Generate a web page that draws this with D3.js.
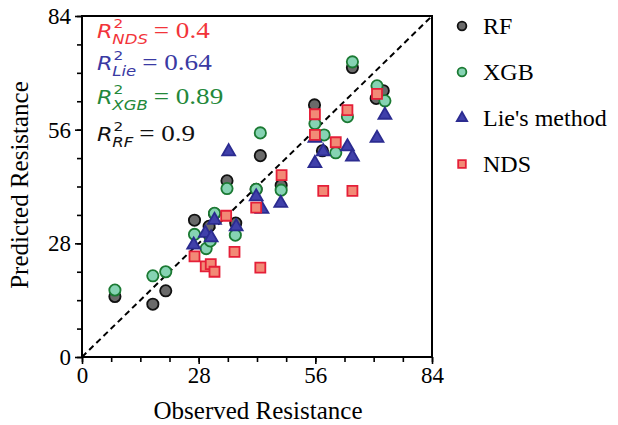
<!DOCTYPE html>
<html><head><meta charset="utf-8">
<script src="https://cdn.jsdelivr.net/npm/d3@7"></script>
<style>body{margin:0;background:#fff}svg{display:block}</style>
</head><body>
<svg id="c" width="618" height="425"></svg>
<script>
// ---- data ----
const seriesNames = ["RF", "XGB", "Lie's method", "NDS"];
const tickValues = [0, 28, 56, 84];
const minorTickValues = [0, 7, 14, 21, 28, 35, 42, 49, 56, 63, 70, 77, 84];

const rfObserved  = [7.9, 17.0, 20.1, 27.0, 30.5, 31.8, 34.8, 36.9, 41.8, 42.8, 47.8, 55.8, 57.7, 64.9, 70.6, 72.3];
const rfPredicted = [14.9, 13.0, 16.3, 33.7, 32.2, 35.3, 43.4, 33.0, 41.3, 49.6, 42.3, 62.1, 50.8, 71.3, 63.7, 65.6];

const xgbObserved  = [7.9, 17.0, 20.1, 27.0, 29.8, 30.8, 31.8, 34.8, 36.8, 41.8, 42.8, 47.8, 55.9, 58.1, 60.9, 63.7, 64.9, 70.8, 72.7];
const xgbPredicted = [16.5, 20.0, 21.0, 30.2, 26.7, 28.6, 35.4, 41.5, 30.0, 41.3, 55.2, 41.1, 57.5, 54.7, 50.3, 59.2, 72.7, 66.8, 63.1];

const lieObserved  = [26.8, 29.6, 31.0, 31.8, 35.2, 37.0, 41.8, 43.2, 47.7, 55.9, 55.9, 57.9, 63.7, 64.9, 70.8, 72.7];
const liePredicted = [27.6, 30.5, 29.4, 33.7, 50.6, 32.1, 39.5, 36.4, 37.9, 47.7, 53.9, 50.6, 51.8, 49.3, 53.9, 59.6];

const ndsObserved  = [27.0, 29.7, 30.9, 31.8, 34.6, 36.6, 41.8, 42.8, 47.9, 55.9, 55.9, 57.9, 60.9, 63.7, 64.9, 70.8];
const ndsPredicted = [24.8, 22.3, 22.9, 21.0, 34.8, 25.9, 36.8, 22.0, 44.8, 59.8, 54.7, 40.9, 52.9, 60.8, 40.9, 64.8];

const r2Labels = ["NDS", "Lie", "XGB", "RF"];
const r2Values = ["0.4", "0.64", "0.89", "0.9"];

// ---- layout ----
const svg = d3.select("#c");
const L = 82, R = 432, T = 16, B = 357;
const x = d3.scaleLinear().domain([0, 84]).range([L, R]);
const y = d3.scaleLinear().domain([0, 84]).range([B, T]);
const serif = "'Liberation Serif','Times New Roman',serif";
const sans = "'DejaVu Sans',sans-serif";

// frame
svg.append("rect").attr("x", L).attr("y", T).attr("width", R - L).attr("height", B - T)
  .attr("fill", "none").attr("stroke", "#000").attr("stroke-width", 2);

// axes
const xAxis = svg.append("g").attr("transform", `translate(0,${B})`);
xAxis.call(d3.axisBottom(x).tickValues(minorTickValues).tickSize(5).tickFormat(""));
xAxis.append("g").call(d3.axisBottom(x).tickValues(tickValues).tickSize(7).tickPadding(3).tickFormat(d3.format("d")));
const yAxis = svg.append("g").attr("transform", `translate(${L},0)`);
yAxis.call(d3.axisLeft(y).tickValues(minorTickValues).tickSize(5).tickFormat(""));
yAxis.append("g").call(d3.axisLeft(y).tickValues(tickValues).tickSize(7).tickPadding(4).tickFormat(d3.format("d")));
svg.selectAll(".domain").remove();
svg.selectAll(".tick line").attr("stroke", "#000").attr("stroke-width", 1.6);
svg.selectAll(".tick text").attr("font-family", serif).attr("font-size", 23).attr("fill", "#000");

// axis titles
svg.append("text").attr("x", 258).attr("y", 419).attr("text-anchor", "middle")
  .attr("font-family", serif).attr("font-size", 25).text("Observed Resistance");
svg.append("text").attr("transform", "translate(28,185) rotate(-90)").attr("text-anchor", "middle")
  .attr("font-family", serif).attr("font-size", 25).text("Predicted Resistance");

// diagonal
svg.append("line").attr("x1", x(0)).attr("y1", y(0)).attr("x2", x(84)).attr("y2", y(84))
  .attr("stroke", "#000").attr("stroke-width", 2).attr("stroke-dasharray", "6,4");

// series styles
const styles = [
  {name: seriesNames[0], xs: rfObserved, ys: rfPredicted, sym: d3.symbolCircle, fill: "#6a6a6a", stroke: "#111", size: 100, lsize: 60},
  {name: seriesNames[1], xs: xgbObserved, ys: xgbPredicted, sym: d3.symbolCircle, fill: "#86d3b3", stroke: "#1b7a33", size: 100, lsize: 60},
  {name: seriesNames[2], xs: lieObserved, ys: liePredicted, sym: d3.symbolTriangle, fill: "#4040aa", stroke: "#2b2b90", size: 72, lsize: 46},
  {name: seriesNames[3], xs: ndsObserved, ys: ndsPredicted, sym: d3.symbolSquare, fill: "#f28a76", stroke: "#e51f38", size: 100, lsize: 58}
];

const plot = svg.append("g");
styles.forEach(s => {
  const pts = s.xs.map((v, i) => [v, s.ys[i]]);
  plot.append("g").selectAll("path").data(pts).join("path")
    .attr("d", d3.symbol().type(s.sym).size(s.size))
    .attr("transform", d => `translate(${x(d[0])},${y(d[1])})`)
    .attr("fill", s.fill).attr("stroke", s.stroke).attr("stroke-width", 1.8);
});

// legend
const lg = svg.append("g");
styles.forEach((s, i) => {
  const cy = 26 + i * 46;
  lg.append("path").attr("d", d3.symbol().type(s.sym).size(s.lsize)())
    .attr("transform", `translate(462,${cy})`)
    .attr("fill", s.fill).attr("stroke", s.stroke).attr("stroke-width", 1.8);
  lg.append("text").attr("x", 483).attr("y", cy + 8).attr("font-family", serif)
    .attr("font-size", 24).text(s.name);
});

// R^2 annotations (slightly stretched horizontally like the reference)
const r2Colors = ["#f2343a", "#3a3aa3", "#23883a", "#111"];
const r2Base = [38, 70, 104, 141];
r2Labels.forEach((lab, i) => {
  const by = r2Base[i];
  const g = svg.append("g").attr("fill", r2Colors[i])
    .attr("transform", `translate(97,0) scale(1.18,1)`);
  g.append("text").attr("x", 0).attr("y", by).attr("font-family", sans).attr("font-style", "italic")
    .attr("font-size", 19).text("R");
  g.append("text").attr("x", 14).attr("y", by - 10).attr("font-family", sans)
    .attr("font-size", 13).text("2");
  const sub = g.append("text").attr("x", 13).attr("y", by + 6).attr("font-family", sans).attr("font-style", "italic")
    .attr("font-size", 14).text(lab);
  const w = sub.node().getComputedTextLength();
  g.append("text").attr("x", 13 + w + 5).attr("y", by).attr("font-family", serif)
    .attr("font-size", 23).text("= " + r2Values[i]);
});
</script>
</body></html>
